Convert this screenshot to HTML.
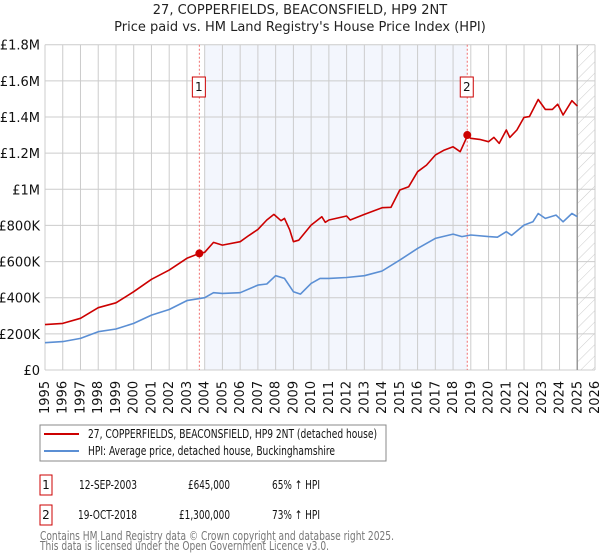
<!DOCTYPE html>
<html><head><meta charset="utf-8"><style>
body{margin:0;background:#fff;font-family:"DejaVu Sans","Liberation Sans",sans-serif;}
#wrap{position:relative;width:600px;height:560px;overflow:hidden}
</style></head><body><div id="wrap">
<svg id="svg" width="600" height="560" xmlns="http://www.w3.org/2000/svg" font-family="DejaVu Sans, Liberation Sans, sans-serif">
<defs><pattern id="hatch" width="8" height="8" patternUnits="userSpaceOnUse" patternTransform="rotate(45)"><line x1="0" y1="0" x2="0" y2="8" stroke="#ccc" stroke-width="1"/></pattern></defs>
<text x="300" y="14" text-anchor="middle" font-size="13" fill="#222">27, COPPERFIELDS, BEACONSFIELD, HP9 2NT</text>
<text x="300" y="31" text-anchor="middle" font-size="13" fill="#222">Price paid vs. HM Land Registry's House Price Index (HPI)</text>
<g id="plot"></g>
<rect x="40" y="425" width="346" height="36" fill="#fff" stroke="#888"/>
<line x1="44" y1="434" x2="79" y2="434" stroke="#cc0000" stroke-width="2"/>
<text x="88" y="438" font-size="12" fill="#111" textLength="289" lengthAdjust="spacingAndGlyphs">27, COPPERFIELDS, BEACONSFIELD, HP9 2NT (detached house)</text>
<line x1="44" y1="451" x2="79" y2="451" stroke="#5b8fd4" stroke-width="2"/>
<text x="88" y="455" font-size="12" fill="#111" textLength="247" lengthAdjust="spacingAndGlyphs">HPI: Average price, detached house, Buckinghamshire</text>
<g>
<rect x="40" y="475" width="12" height="20" fill="#fff" stroke="#cc0000"/>
<text x="46" y="489" text-anchor="middle" font-size="12" fill="#111">1</text>
<text x="79" y="489" font-size="12" fill="#111" textLength="58" lengthAdjust="spacingAndGlyphs">12-SEP-2003</text>
<text x="188" y="489" font-size="12" fill="#111" textLength="42" lengthAdjust="spacingAndGlyphs">£645,000</text>
<text x="272" y="489" font-size="12" fill="#111" textLength="48" lengthAdjust="spacingAndGlyphs">65% ↑ HPI</text></g>
<g>
<rect x="40" y="505" width="12" height="20" fill="#fff" stroke="#cc0000"/>
<text x="46" y="519" text-anchor="middle" font-size="12" fill="#111">2</text>
<text x="78" y="519" font-size="12" fill="#111" textLength="59" lengthAdjust="spacingAndGlyphs">19-OCT-2018</text>
<text x="179" y="519" font-size="12" fill="#111" textLength="51" lengthAdjust="spacingAndGlyphs">£1,300,000</text>
<text x="272" y="519" font-size="12" fill="#111" textLength="48" lengthAdjust="spacingAndGlyphs">73% ↑ HPI</text></g>
<text x="40" y="540" font-size="12" fill="#777" textLength="354" lengthAdjust="spacingAndGlyphs">Contains HM Land Registry data © Crown copyright and database right 2025.</text>
<text x="40" y="550" font-size="12" fill="#777" textLength="289" lengthAdjust="spacingAndGlyphs">This data is licensed under the Open Government Licence v3.0.</text>
</svg></div>
<script>
const yTickValues=[0,200000,400000,600000,800000,1000000,1200000,1400000,1600000,1800000];
const yTickLabels=["£0","£200K","£400K","£600K","£800K","£1M","£1.2M","£1.4M","£1.6M","£1.8M"];
const xYears=[1995,1996,1997,1998,1999,2000,2001,2002,2003,2004,2005,2006,2007,2008,2009,2010,2011,2012,2013,2014,2015,2016,2017,2018,2019,2020,2021,2022,2023,2024,2025,2026];
const hpiT=[1995,1996,1997,1998,1999,2000,2001,2002,2003,2004,2004.5,2005,2006,2007,2007.5,2008,2008.5,2009,2009.4,2010,2010.5,2011,2012,2013,2014,2015,2016,2017,2018,2018.5,2019,2020,2020.5,2021,2021.3,2022,2022.5,2022.8,2023.2,2023.8,2024.2,2024.7,2025];
const hpiV=[151000,157000,175000,212000,227000,258000,304000,335000,384000,400000,428000,424000,428000,470000,476000,522000,507000,433000,420000,479000,507000,507000,512000,522000,548000,608000,673000,728000,752000,738000,747000,738000,735000,765000,745000,802000,820000,866000,839000,857000,820000,866000,848000];
const propT=[1995,1996,1997,1998,1999,2000,2001,2002,2003,2003.7,2004,2004.5,2005,2006,2006.5,2007,2007.5,2007.9,2008.3,2008.5,2008.8,2009,2009.3,2010,2010.6,2010.8,2011,2012,2012.2,2013,2014,2014.5,2015,2015.5,2016,2016.5,2017,2017.5,2018,2018.4,2018.8,2019,2019.5,2020,2020.3,2020.6,2021,2021.2,2021.6,2022,2022.3,2022.8,2023.2,2023.6,2023.9,2024.2,2024.7,2025];
const propV=[251000,258000,286000,345000,372000,433000,502000,553000,618000,645000,651000,706000,691000,710000,745000,778000,830000,861000,826000,839000,774000,710000,718000,802000,848000,817000,830000,852000,830000,861000,898000,900000,996000,1014000,1097000,1134000,1189000,1217000,1235000,1208000,1294000,1282000,1276000,1263000,1287000,1254000,1328000,1287000,1328000,1398000,1402000,1497000,1442000,1442000,1471000,1411000,1490000,1460000];
const saleT=[2003.7,2018.8];
const saleV=[645000,1300000];
const saleLabels=["1","2"];
const X0=45,X1=595,Y0=370,Y1=44.7;
function x(t){return X0+(t-1995)/(2026-1995)*(X1-X0);}
function y(v){return Y0-v/1800000*(Y0-Y1);}
const NS="http://www.w3.org/2000/svg",g=document.getElementById('plot');
function mk(tag,a){const e=document.createElementNS(NS,tag);for(const k in a)e.setAttribute(k,a[k]);g.appendChild(e);return e;}
let e;
e=mk('rect',{x:x(2004),y:Y1,width:x(2018.8)-x(2004),height:Y0-Y1,fill:'#f3f6fd'});


e=mk('rect',{x:x(2025),y:Y1,width:X1-x(2025),height:Y0-Y1,fill:'url(#hatch)'});


xYears.forEach(t=>{
 e=mk('line',{x1:x(t),x2:x(t),y1:Y1,y2:Y0,stroke:'#ccc','stroke-width':1});
 
 
 e=mk('text',{x:0,y:0,transform:`translate(${x(t)+4},414) rotate(-90)`,'font-size':13,fill:'#111'});
 e.textContent=t;
 
 
});
yTickValues.forEach((v,i)=>{
 e=mk('line',{x1:X0,x2:X1,y1:y(v),y2:y(v),stroke:'#ccc','stroke-width':1});
 
 
 e=mk('text',{x:40,y:y(v)+5,'text-anchor':'end','font-size':13,fill:'#111'});
 e.textContent=yTickLabels[i];
 
 
});
e=mk('line',{x1:x(2025),x2:x(2025),y1:Y1,y2:Y0,stroke:'#999','stroke-width':1.5});


saleT.forEach((t,i)=>{
 e=mk('line',{x1:x(t),x2:x(t),y1:Y1,y2:Y0,stroke:'#f07070','stroke-width':1,'stroke-dasharray':'2,2'});
 
 
});
function path(T,V,c){return mk('path',{d:T.map((t,i)=>(i?'L':'M')+x(t).toFixed(1)+','+y(V[i]).toFixed(1)).join(''),fill:'none',stroke:c,'stroke-width':1.6,'stroke-linejoin':'round'});}
e=path(hpiT,hpiV,'#5b8fd4');


e=path(propT,propV,'#cc0000');


saleT.forEach((t,i)=>{
 e=mk('circle',{cx:x(t),cy:y(saleV[i]),r:4,fill:'#cc0000'});
 
 
 e=mk('rect',{x:x(t)-7,y:77,width:13,height:20,fill:'#fff',stroke:'#cc0000'});
 
 
 e=mk('text',{x:x(t)-0.5,y:91,'text-anchor':'middle','font-size':12,fill:'#111'});
 e.textContent=saleLabels[i];
 
 
});
</script></body></html>
